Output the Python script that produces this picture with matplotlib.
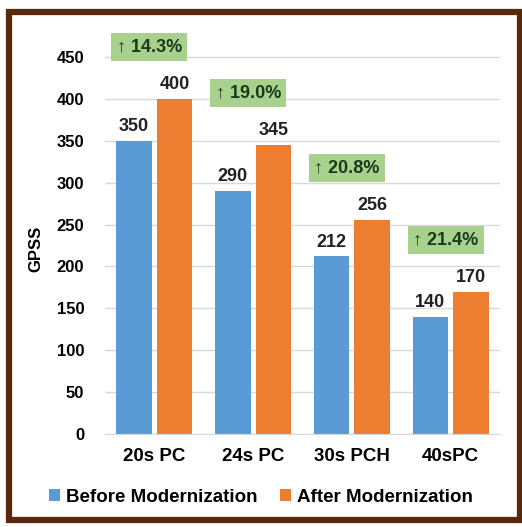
import matplotlib.pyplot as plt
import numpy as np
from matplotlib.patches import Rectangle

plt.rcParams['font.family'] = ['Liberation Sans', 'DejaVu Sans']
plt.rcParams['font.weight'] = 'bold'

categories = ["20s PC", "24s PC", "30s PCH", "40sPC"]
before = [350, 290, 212, 140]
after = [400, 345, 256, 170]
gains = ["\u2191 14.3%", "\u2191 19.0%", "\u2191 20.8%", "\u2191 21.4%"]

blue = "#5b9bd5"
orange = "#ed7d31"
green = "#a9d18e"

fig = plt.figure(figsize=(5.22, 5.27), dpi=100)
ax = fig.add_axes([105/522, 1-434/527, 395/522, 377/527 * 480/450])

x = np.arange(len(categories))
w = 0.36
b1 = ax.bar(x - w/2 - 0.025, before, w, color=blue, label="Before Modernization", zorder=2)
b2 = ax.bar(x + w/2 + 0.025, after, w, color=orange, label="After Modernization", zorder=2)

for rect, v in zip(list(b1) + list(b2), before + after):
    ax.text(rect.get_x() + rect.get_width()/2, v + 7, str(v), ha='center', va='bottom',
            fontsize=13, fontweight='bold', color='#222222')

#percentage boxes above each group
for i, g in enumerate(gains):
    ax.text(x[i] - 0.05, after[i] + 62, g, ha='center', va='center', fontsize=13,
            fontweight='bold', color='#1a3a1a',
            bbox=dict(boxstyle='square,pad=0.3', fc=green, ec='none'), zorder=3)

ax.set_xlim(-0.5, 3.5)
ax.set_ylim(0, 480)
ax.set_yticks(range(0, 451, 50))
ax.set_xticks(x)
ax.set_xticklabels(categories, fontsize=13.5, fontweight='bold')
ax.tick_params(axis='y', labelsize=12, length=0, pad=15)
ax.tick_params(axis='x', length=0, pad=10)
ax.yaxis.grid(True, color='#d9d9d9', linewidth=1, zorder=0)
for s in ['top', 'right', 'left']:
    ax.spines[s].set_visible(False)
ax.spines['bottom'].set_color('#d9d9d9')
ax.set_ylabel("GPSS", fontsize=12, fontweight='bold')
ax.yaxis.set_label_coords(-0.155, 0.46)

fig.legend(handles=[b1, b2], loc='center', bbox_to_anchor=(0.5, 1-497/527), ncol=2,
           frameon=False, handlelength=0.6, handleheight=0.6,
           handletextpad=0.3, columnspacing=1.2, prop={'weight': 'bold', 'size': 13.5})

fig.patches.append(Rectangle((9/522, 1-520/527), 511/522, 508/527, transform=fig.transFigure,
                             fill=False, ec='#58290a', lw=4.5, zorder=10))

fig.savefig("out.png", dpi=100)
